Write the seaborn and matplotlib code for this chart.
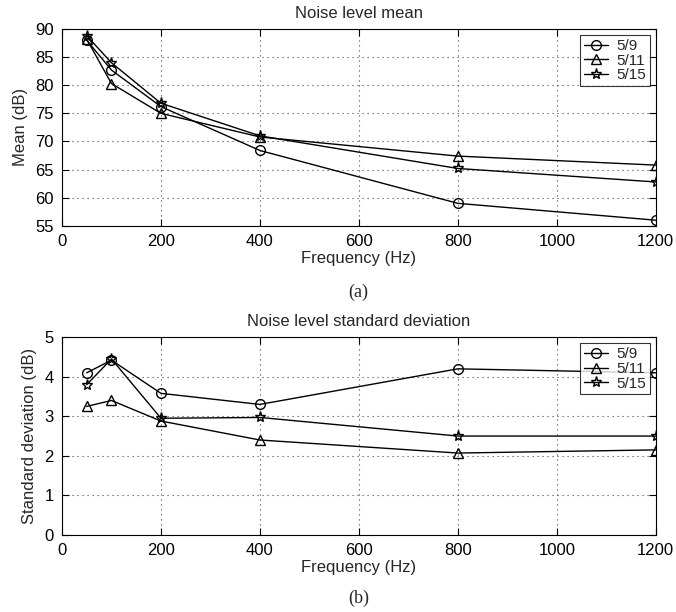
import numpy as np
import pandas as pd
import seaborn as sns
import matplotlib.pyplot as plt

# Frequencies (Hz)
freq = [50, 100, 200, 400, 800, 1200]
dates = ["5/9", "5/11", "5/15"]
markers = ["o", "^", "*"]

# Noise level mean (dB)
mean_59 = [88.0, 82.7, 76.2, 68.4, 59.0, 56.0]
mean_511 = [88.2, 80.3, 75.0, 70.8, 67.4, 65.8]
mean_515 = [88.8, 84.0, 76.8, 71.0, 65.2, 62.8]

# Noise level standard deviation (dB)
std_59 = [4.1, 4.42, 3.58, 3.3, 4.2, 4.1]
std_511 = [3.25, 3.4, 2.88, 2.4, 2.07, 2.15]
std_515 = [3.8, 4.45, 2.95, 2.97, 2.5, 2.5]

sns.set_style("white")
plt.rcParams['font.family'] = ['Liberation Sans', 'DejaVu Sans']

fig = plt.figure(figsize=(6.76, 6.12), dpi=100)
ax1 = fig.add_axes([0.0917, 0.631, 0.8783, 0.3216])
ax2 = fig.add_axes([0.0917, 0.126, 0.8783, 0.323])


def draw(ax, series, title, ylabel, ylim, yticks):
    for vals, lab, m in zip(series, dates, markers):
        df = pd.DataFrame({"freq": freq, "val": vals})
        sns.lineplot(data=df, x="freq", y="val", ax=ax, color="black", lw=1,
                     marker=m, markersize=8 if m == "*" else 7,
                     markerfacecolor="none", markeredgecolor="black",
                     markeredgewidth=1, label=lab)
    ax.set_xlim(0, 1200)
    ax.set_ylim(*ylim)
    ax.set_xticks([0, 200, 400, 600, 800, 1000, 1200])
    ax.set_yticks(yticks)
    ax.grid(True, linestyle=(0, (1, 3.5)), color="#444444", lw=0.8)
    for s in ax.spines.values():
        s.set_color("black")
        s.set_linewidth(0.8)
    ax.tick_params(direction="in", length=5, labelsize=12, colors="black",
                   top=True, right=True, bottom=True, left=True, pad=6)
    ax.set_title(title, fontsize=12, pad=8)
    ax.set_xlabel("Frequency (Hz)", fontsize=12, labelpad=1)
    ax.set_ylabel(ylabel, fontsize=12, labelpad=5)
    leg = ax.legend(loc="upper right", fontsize=11, frameon=True, fancybox=False,
                    borderaxespad=0.4, handlelength=1.6, labelspacing=0.05,
                    borderpad=0.25, handletextpad=0.5)
    leg.get_frame().set_edgecolor("black")
    leg.get_frame().set_linewidth(0.8)


draw(ax1, [mean_59, mean_511, mean_515], "Noise level mean", "Mean (dB)",
     (55, 90), [55, 60, 65, 70, 75, 80, 85, 90])
draw(ax2, [std_59, std_511, std_515], "Noise level standard deviation",
     "Standard deviation (dB)", (0, 5), [0, 1, 2, 3, 4, 5])

fig.text(0.53, 0.523, "(a)", ha="center", va="center", fontsize=13,
         family="Liberation Serif")
fig.text(0.53, 0.022, "(b)", ha="center", va="center", fontsize=13,
         family="Liberation Serif")

fig.savefig("out.png", dpi=100)
